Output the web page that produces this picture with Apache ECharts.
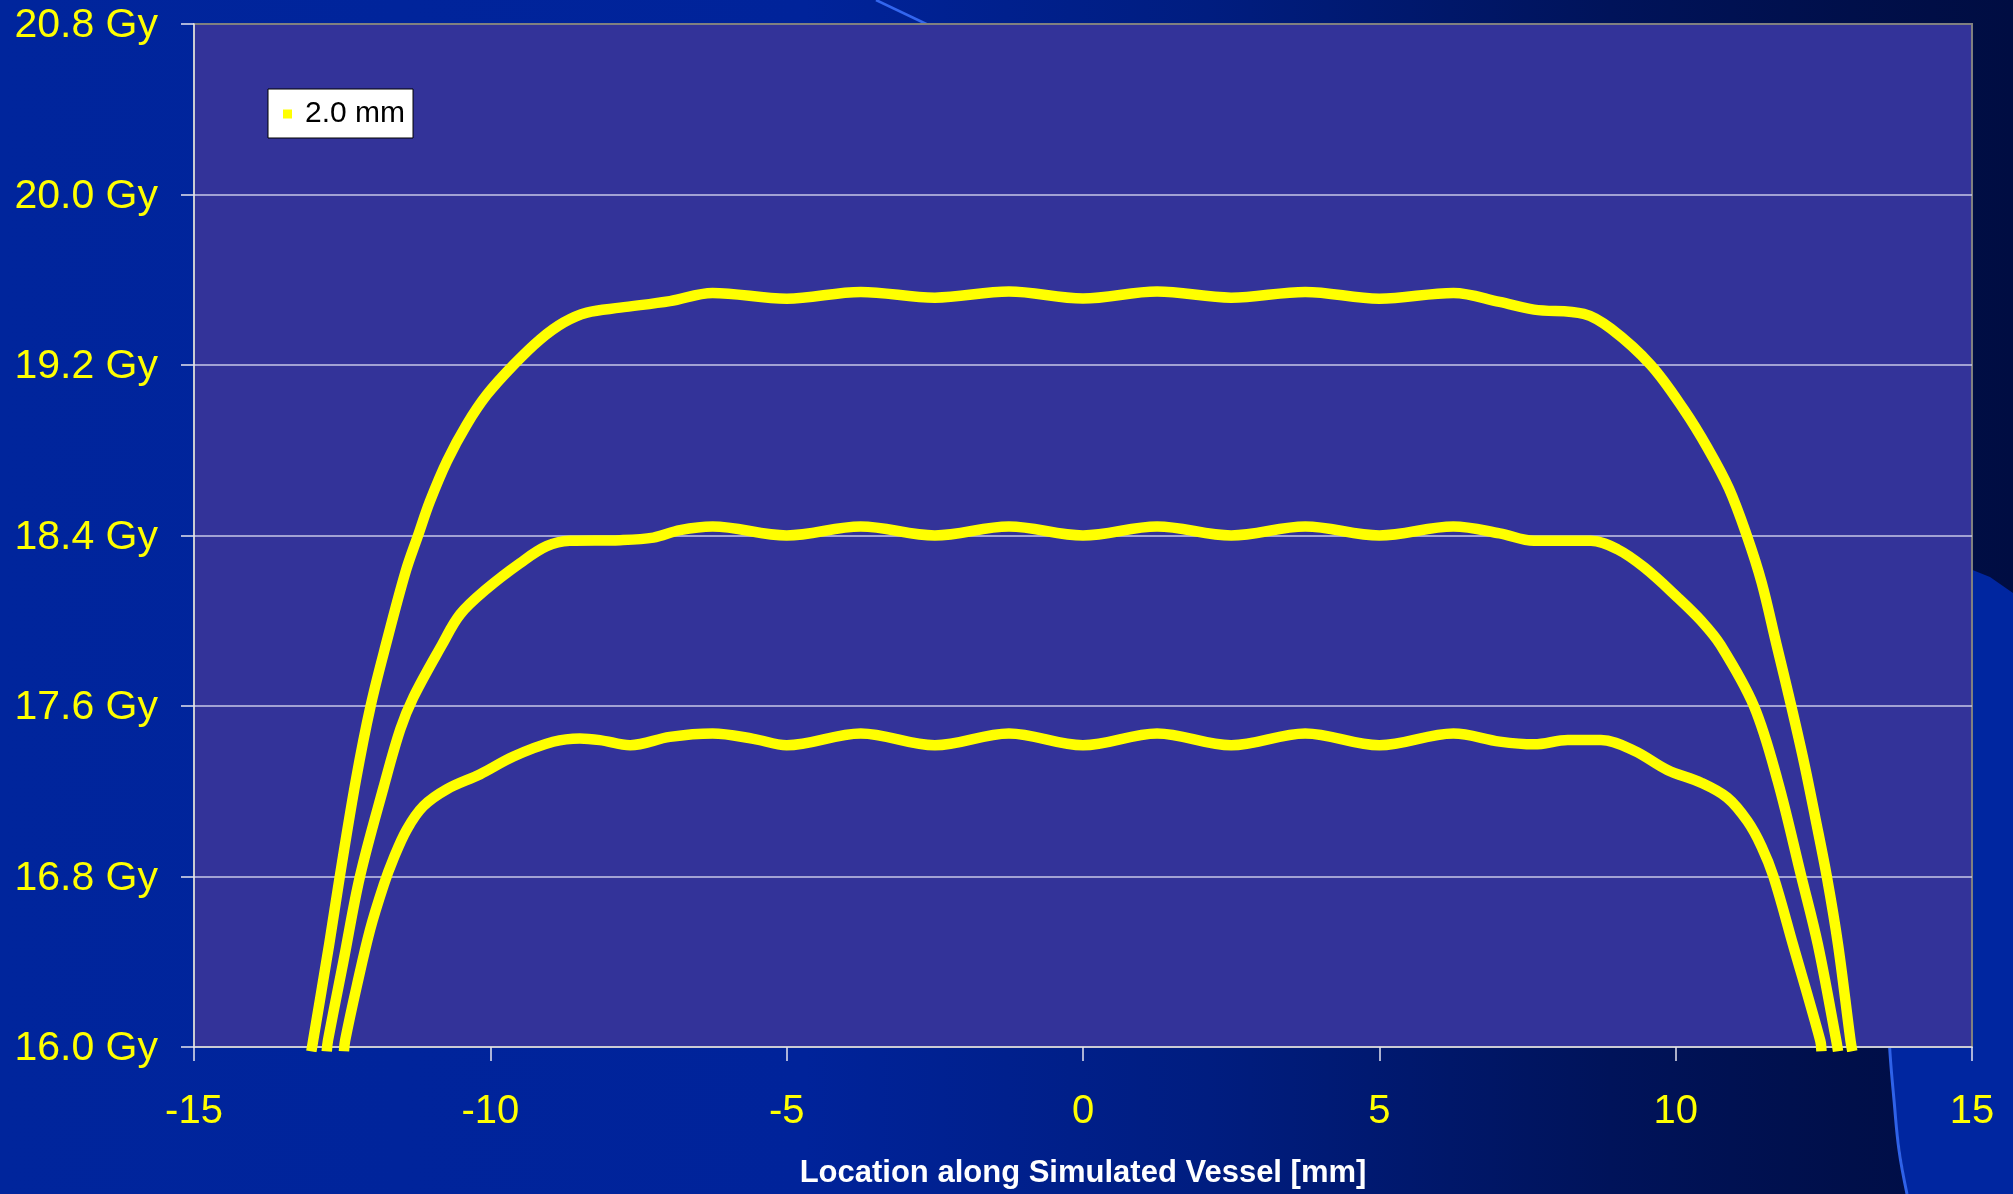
<!DOCTYPE html>
<html>
<head>
<meta charset="utf-8">
<title>Dose along simulated vessel</title>
<script src="https://cdn.jsdelivr.net/npm/echarts@6/dist/echarts.min.js"></script>
<style>
  html, body { margin: 0; padding: 0; background: #00239a; overflow: hidden; }
  #chart { width: 2013px; height: 1194px; }
</style>
</head>
<body>
<div id="chart"></div>
<script>
// Axis ranges and ticks
const xTicks = [-15, -10, -5, 0, 5, 10, 15];
const yMin = 16.0, yMax = 20.8, yStep = 0.8;
const yUnit = ' Gy';
const legendName = '2.0 mm';
const xAxisTitle = 'Location along Simulated Vessel [mm]';

// Dose profiles [position mm, dose Gy]
const doseUpper = [
  [-13.02, 15.98], [-12.99, 16.03], [-12.72, 16.48], [-12.54, 16.80], [-12.27, 17.25],
  [-12.02, 17.60], [-11.76, 17.89], [-11.43, 18.23], [-11.22, 18.40], [-11.02, 18.56],
  [-10.73, 18.75], [-10.40, 18.92], [-10.06, 19.06], [-9.61, 19.20], [-9.16, 19.32],
  [-8.76, 19.40], [-8.37, 19.446], [-7.81, 19.469], [-6.97, 19.50], [-6.25, 19.538],
  [-5.0, 19.511], [-3.75, 19.543], [-2.5, 19.516], [-1.25, 19.545], [0, 19.512],
  [1.25, 19.545], [2.5, 19.516], [3.75, 19.543], [5.0, 19.511], [6.25, 19.538],
  [7.03, 19.496], [7.61, 19.46], [8.45, 19.44], [8.91, 19.37], [9.58, 19.20],
  [10.14, 18.99], [10.54, 18.81], [10.90, 18.62], [11.20, 18.40], [11.45, 18.18],
  [11.70, 17.89], [11.95, 17.60], [12.17, 17.33], [12.36, 17.07], [12.55, 16.80],
  [12.74, 16.48], [12.95, 16.03], [12.98, 15.98]
];
const doseMiddle = [
  [-12.76, 15.98], [-12.74, 16.03], [-12.48, 16.40], [-12.20, 16.80], [-11.80, 17.22],
  [-11.52, 17.49], [-11.30, 17.64], [-10.82, 17.885], [-10.51, 18.03], [-10.06, 18.15],
  [-9.50, 18.27], [-9.05, 18.35], [-8.66, 18.375], [-7.81, 18.378], [-7.25, 18.39],
  [-6.80, 18.425], [-6.25, 18.442], [-5.0, 18.40], [-3.75, 18.442], [-2.5, 18.40],
  [-1.25, 18.442], [0, 18.40], [1.25, 18.442], [2.5, 18.40], [3.75, 18.442],
  [5.0, 18.40], [6.25, 18.442], [7.03, 18.41], [7.61, 18.375], [8.57, 18.375],
  [9.02, 18.335], [9.47, 18.25], [10.03, 18.11], [10.43, 18.00], [10.76, 17.885],
  [11.32, 17.60], [11.72, 17.25], [12.12, 16.80], [12.40, 16.48], [12.71, 16.03],
  [12.74, 15.98]
];
const doseLower = [
  [-12.47, 15.98], [-12.45, 16.03], [-12.25, 16.29], [-12.03, 16.55], [-11.80, 16.76],
  [-11.64, 16.88], [-11.41, 17.02], [-11.13, 17.13], [-10.73, 17.21], [-10.17, 17.28],
  [-9.61, 17.363], [-8.94, 17.432], [-8.49, 17.448], [-8.15, 17.44], [-7.64, 17.416],
  [-6.97, 17.455], [-6.25, 17.471], [-5.56, 17.446], [-5.0, 17.416], [-3.75, 17.471],
  [-2.5, 17.416], [-1.25, 17.471], [0, 17.416], [1.25, 17.471], [2.5, 17.416],
  [3.75, 17.471], [5.0, 17.416], [6.25, 17.471], [7.03, 17.433], [7.61, 17.42],
  [8.18, 17.44], [8.74, 17.44], [9.30, 17.39], [9.86, 17.30], [10.43, 17.24],
  [10.87, 17.17], [11.21, 17.06], [11.45, 16.94], [11.65, 16.80], [11.98, 16.48],
  [12.44, 16.03], [12.46, 15.98]
];

const chart = echarts.init(document.getElementById('chart'), null, { renderer: 'canvas' });

const FONT = '"Liberation Sans", Arial, Helvetica, sans-serif';
const YELLOW = '#ffff00';

function profileSeries(data) {
  return {
    name: legendName,
    type: 'line',
    data: data,
    showSymbol: false,
    smooth: 0.35,
    clip: true,
    lineStyle: { color: YELLOW, width: 10.5, cap: 'butt', join: 'round' },
    itemStyle: { color: YELLOW },
    emphasis: { disabled: true },
    animation: false
  };
}

// slide backdrop: horizontal blue-to-navy fade with a lighter panel at lower right
const backdrop = [
  {
    type: 'rect', z: -20, silent: true,
    shape: { x: 0, y: 0, width: 2013, height: 1194 },
    style: {
      fill: {
        type: 'linear', x: 0, y: 0, x2: 1, y2: 0,
        colorStops: [
          { offset: 0, color: '#00259c' },
          { offset: 0.4, color: '#00239a' },
          { offset: 0.6, color: '#001d80' },
          { offset: 0.8, color: '#00135a' },
          { offset: 0.92, color: '#000f4a' },
          { offset: 1, color: '#000d42' }
        ]
      }
    }
  },
  {
    type: 'polygon', z: -19, silent: true,
    shape: {
      points: [[2013, 593], [1990, 577], [1965, 567], [1940, 575], [1915, 620], [1895, 720],
               [1887, 850], [1887, 960], [1890, 1053], [1896, 1120], [1907, 1194], [2013, 1194]]
    },
    style: { fill: '#0026a0' }
  },
  {
    type: 'polyline', z: -18, silent: true,
    shape: { points: [[1887, 960], [1888, 1010], [1890, 1053], [1894, 1100], [1899, 1150], [1907, 1194]], smooth: 0.4 },
    style: { fill: null, stroke: '#2f62e8', lineWidth: 3 }
  },
  {
    type: 'line', z: -18, silent: true,
    shape: { x1: 876, y1: 0, x2: 960, y2: 40 },
    style: { stroke: '#3366ee', lineWidth: 2.5 }
  }
];

const option = {
  animation: false,
  backgroundColor: '#00239a',
  graphic: { elements: backdrop },
  legend: {
    data: [legendName],
    left: 268,
    top: 89,
    orient: 'vertical',
    icon: 'rect',
    itemWidth: 9,
    itemHeight: 9,
    padding: [10, 8, 9, 15],
    backgroundColor: '#ffffff',
    borderColor: '#000000',
    borderWidth: 1,
    borderRadius: 0,
    selectedMode: false,
    textStyle: { color: '#000000', fontSize: 30, fontFamily: FONT, padding: [0, 0, 0, 8] }
  },
  grid: {
    left: 194,
    width: 1778,
    top: 24,
    height: 1028,
    show: true,
    backgroundColor: '#333399',
    borderColor: '#808080',
    borderWidth: 2,
    containLabel: false
  },
  xAxis: {
    type: 'value',
    min: xTicks[0],
    max: xTicks[xTicks.length - 1],
    interval: 5,
    name: xAxisTitle,
    nameLocation: 'middle',
    nameGap: 111,
    nameTextStyle: { color: '#ffffff', fontSize: 31, fontWeight: 'bold', fontFamily: FONT },
    axisLine: { show: true, onZero: false, lineStyle: { color: '#e4e4ee', width: 1.5 } },
    axisTick: { show: true, inside: false, length: 14, lineStyle: { color: '#e4e4ee', width: 1.5 } },
    axisLabel: {
      show: true, margin: 45, color: YELLOW, fontSize: 40, fontFamily: FONT,
      showMinLabel: true, showMaxLabel: true,
      formatter: v => String(v)
    },
    splitLine: { show: false }
  },
  yAxis: {
    type: 'value',
    min: yMin,
    max: yMax,
    interval: yStep,
    axisLine: { show: true, onZero: false, lineStyle: { color: '#e4e4ee', width: 1.5 } },
    axisTick: { show: true, inside: false, length: 13, lineStyle: { color: '#e4e4ee', width: 1.5 } },
    axisLabel: {
      show: true, margin: 36, color: YELLOW, fontSize: 41, fontFamily: FONT,
      showMinLabel: true, showMaxLabel: true,
      formatter: v => '{v|' + v.toFixed(1) + yUnit + '}',
      rich: {
        v: { color: YELLOW, fontSize: 41, fontFamily: FONT, padding: [4, 0, 0, 0] }
      }
    },
    splitLine: {
      show: true, showMinLine: false, showMaxLine: false,
      lineStyle: { color: '#c9c9e8', width: 1.5 }
    }
  },
  series: [
    profileSeries(doseUpper),
    profileSeries(doseMiddle),
    profileSeries(doseLower)
  ]
};

chart.setOption(option);
</script>
</body>
</html>
